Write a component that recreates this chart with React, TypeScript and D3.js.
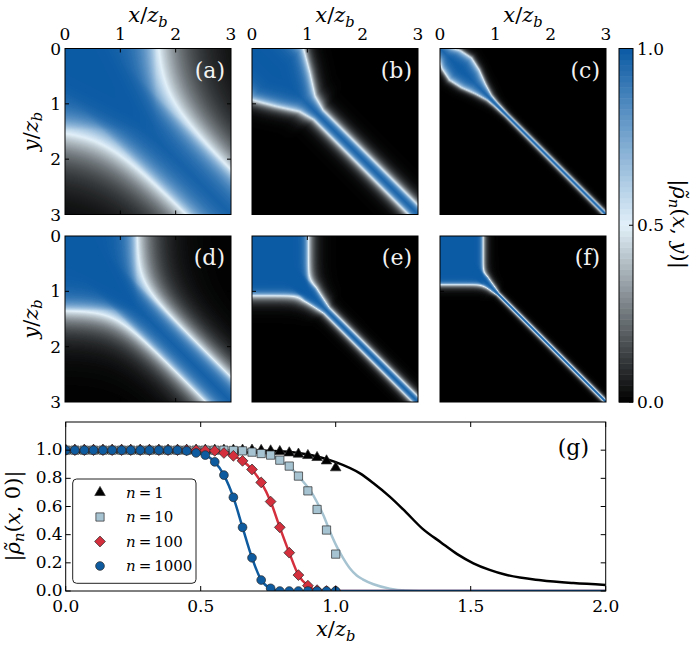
import React, { useMemo } from 'react';
import * as d3 from 'd3';

const W = 698;
const H = 647;
const FONT = 'DejaVu Serif';

// ---------- heat maps (a)-(f) ----------
const panelTags = ['(a)', '(b)', '(c)', '(d)', '(e)', '(f)'];
const mapTicks = [0, 1, 2, 3];
// corner block where |rho| stays ~1 (half level edge along x and along y)
const blockX = [1.65, 0, 0, 1.3, 1.02, 0.78];
const blockY = [1.47, 0, 0, 1.35, 1.08, 0.88];
// diagonal band: half level half-width vs position s = (x+y)/2
const bandS = [
  [0, 3],
  [0.45, 0.75, 1.0, 1.2],
  [0, 0.2, 0.37, 0.55, 0.73, 0.89, 1.0, 1.2],
  [0, 3],
  [1.05, 1.35],
  [0.8, 1.05],
];
const bandW = [
  [0.8, 0.8],
  [0.95, 0.6, 0.28, 0.17],
  [0.12, 0.33, 0.4, 0.32, 0.18, 0.08, 0.06, 0.045],
  [0.45, 0.45],
  [0.22, 0.1],
  [0.12, 0.04],
];
// how soft the edge is inside / outside the half level
const softIn = [0.28, 0.15, 0.1, 0.15, 0.05, 0.03];
const softOut = [0.5, 0.14, 0.06, 0.3, 0.09, 0.05];
const cbarTicks = [0, 0.5, 1];

// ---------- panel (g) ----------
const markerX = [0, 0.034, 0.069, 0.103, 0.138, 0.172, 0.207, 0.241, 0.276, 0.31, 0.345, 0.379, 0.414, 0.448,
  0.483, 0.517, 0.552, 0.586, 0.621, 0.655, 0.69, 0.724, 0.759, 0.793, 0.828, 0.862, 0.897, 0.931, 0.966, 1.0];
const markN1 = [1, 1, 1, 1, 1, 1, 1, 1, 1, 1, 1, 1, 1, 1, 1, 1, 1, 1, 1, 1,
  1, 0.998, 0.995, 0.99, 0.981, 0.972, 0.962, 0.948, 0.924, 0.875];
const markN10 = [1, 1, 1, 1, 1, 1, 1, 1, 1, 1, 1, 1, 1, 1, 1, 1, 1, 1, 0.998, 0.995,
  0.986, 0.976, 0.965, 0.929, 0.887, 0.816, 0.711, 0.579, 0.433, 0.262];
const markN100 = [1, 1, 1, 1, 1, 1, 1, 1, 1, 1, 1, 1, 1, 1, 1, 0.998, 0.995, 0.98, 0.96, 0.924,
  0.863, 0.771, 0.635, 0.452, 0.272, 0.113, 0.038, 0.006, 0, 0];
const markN1000 = [1, 1, 1, 1, 1, 1, 1, 1, 1, 1, 1, 1, 1, 0.995, 0.98, 0.965, 0.917, 0.823, 0.665, 0.452,
  0.236, 0.078, 0.019, 0, 0, 0, 0, 0, 0, 0];

const lineN1X = [0, 0.6, 0.75, 0.88, 1.0, 1.09, 1.14, 1.2, 1.26, 1.32, 1.39, 1.45, 1.51, 1.57, 1.63, 1.76, 1.88, 2.0];
const lineN1Y = [1, 1, 0.995, 0.975, 0.915, 0.835, 0.765, 0.67, 0.56, 0.445, 0.345, 0.262, 0.197, 0.15, 0.115, 0.076, 0.056, 0.043];
const lineN10X = [0, 0.65, 0.72, 0.76, 0.79, 0.824, 0.849, 0.88, 0.905, 0.93, 0.954, 0.979, 1.004, 1.028, 1.053, 1.078, 1.1, 1.14, 1.2, 1.26, 1.35, 2.0];
const lineN10Y = [1, 0.998, 0.985, 0.965, 0.935, 0.886, 0.846, 0.776, 0.716, 0.634, 0.539, 0.421, 0.315, 0.232, 0.16, 0.11, 0.083, 0.048, 0.017, 0.004, 0, 0];
const lineN100X = [0, 0.5, 0.552, 0.586, 0.621, 0.655, 0.69, 0.724, 0.759, 0.793, 0.828, 0.862, 0.897, 0.931, 0.97, 2.0];
const lineN100Y = [1, 1, 0.995, 0.98, 0.96, 0.924, 0.863, 0.771, 0.635, 0.452, 0.272, 0.113, 0.038, 0.006, 0, 0];
const lineN1000X = [0, 0.414, 0.448, 0.483, 0.517, 0.552, 0.586, 0.621, 0.655, 0.69, 0.724, 0.759, 0.8, 2.0];
const lineN1000Y = [1, 1, 0.995, 0.98, 0.965, 0.917, 0.823, 0.665, 0.452, 0.236, 0.078, 0.019, 0, 0];

const seriesN = ['1', '10', '100', '1000'];
const seriesColor = ['#000000', '#a6c3d1', '#d42f3c', '#0f5b9f'];
const xTicksG = [0, 0.5, 1, 1.5, 2];
const yTicksG = [0, 0.2, 0.4, 0.6, 0.8, 1.0];

// layout
const colX = [65, 252, 440];
const rowY = [48.5, 236];
const PS = 166;
const cbar = { x: 619, w: 14, top: 48.5, bottom: 402 };
const G = { left: 65.7, right: 605.7, top: 422, bottom: 591 };

const cmap = d3.scaleLinear<string>().domain([0, 0.5, 1]).range(['#000000', '#e2f0f9', '#0b5aa4']).clamp(true);

const edge = (t: number, kin: number, kout: number) =>
  t < 0 ? 1 - 0.5 * Math.exp(t / kin) : 0.5 * Math.exp(-t / kout);

function fieldImage(p: number): string {
  const N = PS;
  const canvas = document.createElement('canvas');
  canvas.width = N;
  canvas.height = N;
  const ctx = canvas.getContext('2d')!;
  const img = ctx.createImageData(N, N);
  const wOf = d3.scaleLinear().domain(bandS[p]).range(bandW[p]).clamp(true);
  const lut = d3.range(256).map((i) => d3.rgb(cmap(i / 255)));
  for (let j = 0; j < N; j++) {
    for (let i = 0; i < N; i++) {
      const x = ((i + 0.5) / N) * 3;
      const y = ((j + 0.5) / N) * 3;
      const w = wOf((x + y) / 2);
      const vb = edge(Math.abs(x - y) - w, Math.min(softIn[p], 0.4 * w), Math.min(softOut[p], 0.6 * w + 0.01));
      let vp = 0;
      if (blockX[p] > 0) {
        const dx = x - blockX[p];
        const dy = y - blockY[p];
        const t = dx <= 0 && dy <= 0 ? Math.max(dx, dy) : Math.hypot(Math.max(dx, 0), Math.max(dy, 0));
        vp = edge(t, softIn[p], softOut[p]);
      }
      const v = 1 - (1 - vb) * (1 - vp);
      const c = lut[Math.round(Math.max(0, Math.min(1, v)) * 255)];
      const k = (j * N + i) * 4;
      img.data[k] = c.r;
      img.data[k + 1] = c.g;
      img.data[k + 2] = c.b;
      img.data[k + 3] = 255;
    }
  }
  ctx.putImageData(img, 0, 0);
  return canvas.toDataURL();
}

const XZ = ({ x, y, size = 21, transform }: any) => (
  <text x={x} y={y} fontSize={size} textAnchor="middle" fontFamily={FONT} transform={transform}>
    <tspan fontStyle="italic">x</tspan>/<tspan fontStyle="italic">z</tspan>
    <tspan fontStyle="italic" fontSize={size * 0.7} dy={size * 0.25}>b</tspan>
  </text>
);

const YZ = ({ cx, cy, size = 21 }: any) => (
  <text x={0} y={0} fontSize={size} textAnchor="middle" dominantBaseline="central" fontFamily={FONT}
    transform={`translate(${cx},${cy}) rotate(-90)`}>
    <tspan fontStyle="italic">y</tspan>/<tspan fontStyle="italic">z</tspan>
    <tspan fontStyle="italic" fontSize={size * 0.7} dy={size * 0.25}>b</tspan>
  </text>
);

const RhoLabel = ({ cx, cy, angle, second, size = 21 }: any) => (
  <text x={0} y={0} fontSize={size} textAnchor="middle" dominantBaseline="central" fontFamily={FONT}
    transform={`translate(${cx},${cy}) rotate(${angle})`}>
    |<tspan fontStyle="italic">{'\u03C1\u0303'}</tspan>
    <tspan fontStyle="italic" fontSize={size * 0.7} dy={size * 0.25}>n</tspan>
    <tspan dy={-size * 0.25}>(</tspan>
    <tspan fontStyle="italic">x</tspan>
    <tspan>{', '}</tspan>
    {second === 'y' ? <tspan fontStyle="italic">y</tspan> : <tspan>0</tspan>}
    <tspan>)|</tspan>
  </text>
);

const symTri = d3.symbol().type(d3.symbolTriangle).size(48)()!;
const symSq = d3.symbol().type(d3.symbolSquare).size(68)()!;
const symDia = d3.symbol().type(d3.symbolSquare).size(58)()!;
const symCirc = d3.symbol().type(d3.symbolCircle).size(60)()!;
const markerPath = [symTri, symSq, symDia, symCirc];
const markerRot = [0, 0, 45, 0];

export default function App() {
  const images = useMemo(() => panelTags.map((_, p) => fieldImage(p)), []);
  const ms = d3.scaleLinear().domain([0, 3]).range([0, PS]);

  const gx = d3.scaleLinear().domain([0, 2]).range([G.left, G.right]);
  const gy = d3.scaleLinear().domain([0, 1.2]).range([G.bottom, G.top]);
  const line = d3.line<[number, number]>().x((d) => gx(d[0])).y((d) => gy(d[1])).curve(d3.curveMonotoneX);
  const lineData = [
    [lineN1X, lineN1Y],
    [lineN10X, lineN10Y],
    [lineN100X, lineN100Y],
    [lineN1000X, lineN1000Y],
  ].map(([xs, ys]) => xs.map((x, i) => [x, ys[i]] as [number, number]));
  const markData = [markN1, markN10, markN100, markN1000];

  const cy = d3.scaleLinear().domain([0, 1]).range([cbar.bottom, cbar.top]);
  const bands = d3.range(64);

  return (
    <svg width={W} height={H} style={{ position: 'absolute', left: 0, top: 0, background: '#fff' }}>
      <defs>
        <clipPath id="gclip">
          <rect x={G.left} y={G.top} width={G.right - G.left} height={G.bottom - G.top} />
        </clipPath>
      </defs>

      {panelTags.map((tag, p) => {
        const x0 = colX[p % 3];
        const y0 = rowY[Math.floor(p / 3)];
        return (
          <g key={tag} transform={`translate(${x0},${y0})`}>
            <image href={images[p]} x={0} y={0} width={PS} height={PS} preserveAspectRatio="none" />
            {[1, 2].map((v) => (
              <g key={v} stroke="#000" strokeWidth={1}>
                <line x1={ms(v)} x2={ms(v)} y1={0} y2={4} />
                <line x1={ms(v)} x2={ms(v)} y1={PS} y2={PS - 4} />
                <line y1={ms(v)} y2={ms(v)} x1={0} x2={4} />
                <line y1={ms(v)} y2={ms(v)} x1={PS} x2={PS - 4} />
              </g>
            ))}
            <rect x={0} y={0} width={PS} height={PS} fill="none" stroke="#000" strokeWidth={1} />
            <text x={PS - 6} y={29} textAnchor="end" fontSize={22} fontFamily={FONT} fill="#f2f2f2">{tag}</text>
            {p < 3 &&
              mapTicks.map((v) => (
                <text key={v} x={ms(v)} y={-9} textAnchor="middle" fontSize={17} fontFamily={FONT}>{v}</text>
              ))}
            {p < 3 && <XZ x={PS / 2} y={-27} />}
            {p % 3 === 0 &&
              mapTicks.map((v) => (
                <text key={v} x={-4} y={ms(v)} textAnchor="end" dominantBaseline="central" fontSize={17} fontFamily={FONT}>{v}</text>
              ))}
            {p % 3 === 0 && <YZ cx={-34} cy={PS / 2} />}
          </g>
        );
      })}

      {/* colour bar */}
      {bands.map((i) => (
        <rect key={i} x={cbar.x} width={cbar.w} y={cy((i + 1) / 64)} height={cy(i / 64) - cy((i + 1) / 64) + 0.5}
          fill={cmap((i + 0.5) / 64)} />
      ))}
      <rect x={cbar.x} y={cbar.top} width={cbar.w} height={cbar.bottom - cbar.top} fill="none" stroke="#000" strokeWidth={1} />
      {cbarTicks.map((v) => (
        <g key={v}>
          <line x1={cbar.x + cbar.w} x2={cbar.x + cbar.w - 4} y1={cy(v)} y2={cy(v)} stroke="#000" />
          <text x={cbar.x + cbar.w + 4} y={cy(v)} dominantBaseline="central" fontSize={17} fontFamily={FONT}>{v.toFixed(1)}</text>
        </g>
      ))}
      <RhoLabel cx={680} cy={224} angle={90} second="y" />

      {/* panel (g) */}
      <g clipPath="url(#gclip)">
        {lineData.map((d, i) => (
          <path key={i} d={line(d)!} fill="none" stroke={seriesColor[i]} strokeWidth={2.5} />
        ))}
        {markData.map((vals, s) =>
          vals.map((v, i) => (
            <path key={`${s}-${i}`} d={markerPath[s]}
              transform={`translate(${gx(markerX[i])},${gy(v)}) rotate(${markerRot[s]})`}
              fill={seriesColor[s]} stroke="#2a2a2a" strokeWidth={0.7} />
          ))
        )}
      </g>
      <rect x={G.left} y={G.top} width={G.right - G.left} height={G.bottom - G.top} fill="none" stroke="#000" strokeWidth={1} />
      {xTicksG.map((v) => (
        <g key={v}>
          <line x1={gx(v)} x2={gx(v)} y1={G.bottom} y2={G.bottom - 5} stroke="#000" />
          <line x1={gx(v)} x2={gx(v)} y1={G.top} y2={G.top + 5} stroke="#000" />
          <text x={gx(v)} y={G.bottom + 21} textAnchor="middle" fontSize={17} fontFamily={FONT}>{v.toFixed(1)}</text>
        </g>
      ))}
      {yTicksG.map((v) => (
        <g key={v}>
          <line x1={G.left} x2={G.left + 5} y1={gy(v)} y2={gy(v)} stroke="#000" />
          <line x1={G.right} x2={G.right - 5} y1={gy(v)} y2={gy(v)} stroke="#000" />
          <text x={G.left - 3} y={gy(v) - 1} textAnchor="end" dominantBaseline="central" fontSize={17} fontFamily={FONT}>{v.toFixed(1)}</text>
        </g>
      ))}
      <text x={589} y={455} textAnchor="end" fontSize={22} fontFamily={FONT}>(g)</text>
      <XZ x={(G.left + G.right) / 2} y={636} />
      <RhoLabel cx={13} cy={516} angle={-90} second="0" />

      {/* legend */}
      <rect x={72.7} y={479} width={123.3} height={104.3} rx={4} fill="#fff" stroke="#222" strokeWidth={1} />
      {seriesN.map((n, s) => {
        const ly = 492.5 + s * 24.5;
        return (
          <g key={n}>
            <path d={markerPath[s]} transform={`translate(100,${ly}) rotate(${markerRot[s]})`}
              fill={seriesColor[s]} stroke="#2a2a2a" strokeWidth={0.7} />
            <text x={126} y={ly} dominantBaseline="central" fontSize={15} fontFamily={FONT}>
              <tspan fontStyle="italic">n</tspan>{'\u2009=\u2009' + n}
            </text>
          </g>
        );
      })}
    </svg>
  );
}
